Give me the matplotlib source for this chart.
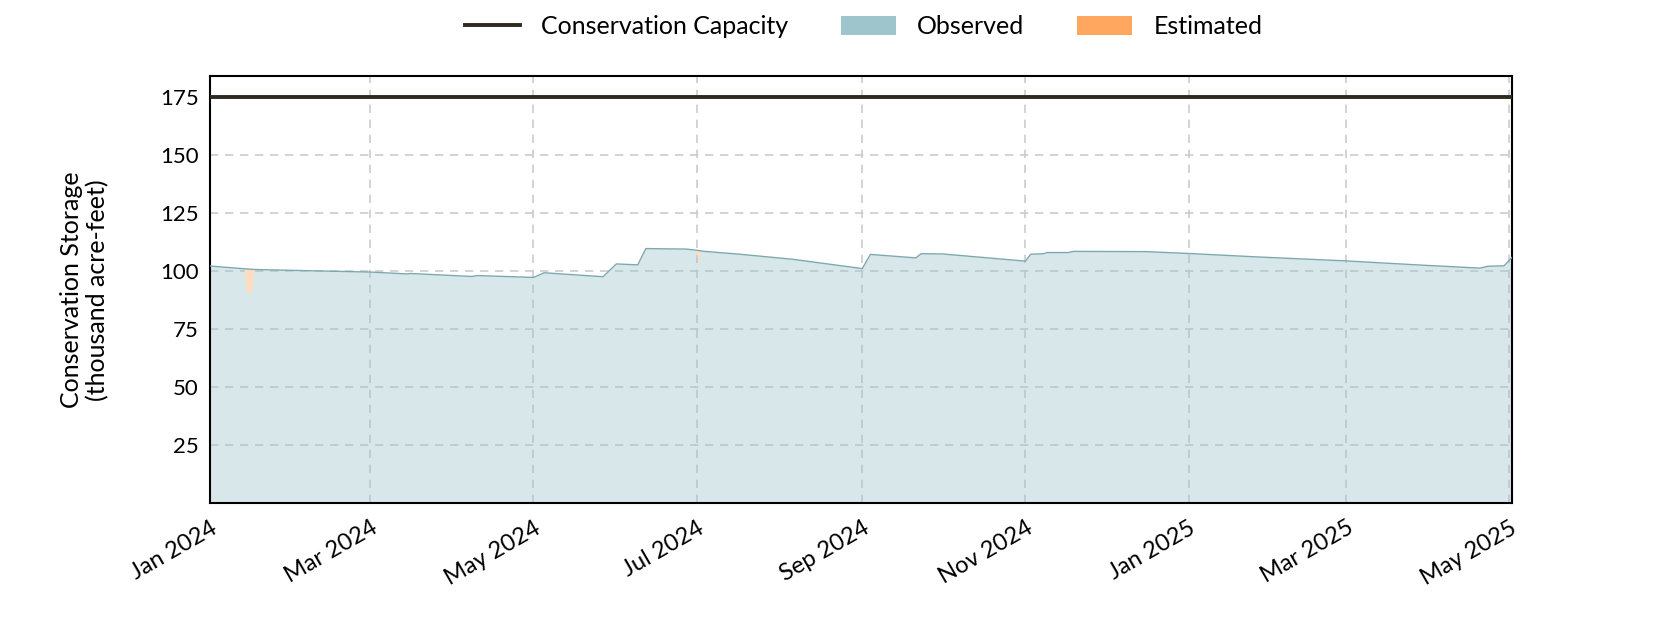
#! /usr/bin/python3
# coding : utf-8

import numpy as np
import pandas as pd
import matplotlib
matplotlib.use("Agg")
import matplotlib.pyplot as plt
import matplotlib.dates as mdates
from matplotlib.lines import Line2D
from matplotlib.patches import Patch

plt.rcParams['font.family'] = ['Lato', 'DejaVu Sans']

CAPACITY = 175.0

# 蓄水量曲线（读图得到的折点）
obs_dates = pd.to_datetime([
    "2024-01-01", "2024-01-13", "2024-01-14", "2024-01-18", "2024-03-01",
    "2024-03-15", "2024-03-16", "2024-04-08", "2024-04-10", "2024-05-01",
    "2024-05-05", "2024-05-27", "2024-06-01", "2024-06-09", "2024-06-12",
    "2024-06-27", "2024-07-01", "2024-07-04", "2024-07-16", "2024-08-06",
    "2024-09-01", "2024-09-04", "2024-09-21", "2024-09-23", "2024-10-01",
    "2024-11-01", "2024-11-03", "2024-11-08", "2024-11-09", "2024-11-17",
    "2024-11-19", "2024-12-16", "2025-01-01", "2025-01-27", "2025-03-01",
    "2025-03-29", "2025-04-20", "2025-04-23", "2025-04-29", "2025-05-02",
])
obs_storage = [
    102.1, 101.0, 100.9, 100.6, 99.5,
    98.7, 98.9, 97.6, 98.0, 97.2,
    99.2, 97.5, 103.0, 102.6, 109.6,
    109.4, 108.9, 108.4, 107.3, 105.0,
    101.0, 107.1, 105.6, 107.4, 107.3,
    104.2, 107.2, 107.4, 107.9, 107.9,
    108.4, 108.3, 107.5, 106.0, 104.3,
    102.5, 101.2, 102.0, 102.2, 105.8,
]

# 估算的时段
est1_dates = pd.to_datetime(["2024-01-13 19:00", "2024-01-14 14:00",
                             "2024-01-16 14:00", "2024-01-17 10:00"])
est1_top = [100.9, 100.9, 100.8, 100.7]
est1_bottom = [100.9, 91.0, 91.0, 100.7]

est2_dates = pd.to_datetime(["2024-07-01 00:00", "2024-07-01 12:00",
                             "2024-07-02 14:00"])
est2_top = [108.9, 108.85, 108.8]
est2_bottom = [108.9, 103.0, 108.8]

OBS_COLOR = "#9fc5cc"
OBS_LINE = "#7ea8b0"
EST_COLOR = "#ffa75f"
CAP_COLOR = "#2e2a1f"

fig = plt.figure(figsize=(16.8, 6.3), dpi=100)
ax = fig.add_axes([0.125, 0.201, 0.775, 0.678])

ax.fill_between(obs_dates, 0, obs_storage, color=OBS_COLOR, alpha=0.4, lw=0, zorder=2)
for d, top, bot in [(est1_dates, est1_top, est1_bottom), (est2_dates, est2_top, est2_bottom)]:
    ax.fill_between(d, bot, top, color="white", lw=0, zorder=3)
    ax.fill_between(d, bot, top, color=EST_COLOR, alpha=0.4, lw=0, zorder=4)
ax.plot(obs_dates, obs_storage, color=OBS_LINE, lw=1.0, zorder=5)
ax.axhline(CAPACITY, color=CAP_COLOR, lw=2.8, zorder=6)

ax.set_ylim(0, CAPACITY * 1.05)
ax.set_xlim(pd.Timestamp("2024-01-01"), pd.Timestamp("2025-05-02"))
ax.set_yticks([25, 50, 75, 100, 125, 150, 175])
ax.xaxis.set_major_locator(mdates.MonthLocator(bymonth=[1, 3, 5, 7, 9, 11]))
ax.xaxis.set_major_formatter(mdates.DateFormatter("%b %Y"))
plt.setp(ax.get_xticklabels(), rotation=30, ha="right", rotation_mode="anchor")
ax.tick_params(axis="y", length=0, labelsize=16, pad=8)
ax.tick_params(axis="x", length=0, labelsize=17, pad=10)

ax.grid(True, color="#cccccc", lw=1.2, ls=(0, (5, 4)), zorder=1)
ax.set_axisbelow(True)
for s in ax.spines.values():
    s.set_color("black")
    s.set_linewidth(1.5)

ax.set_ylabel("Conservation Storage\n(thousand acre-feet)", fontsize=18)
ax.yaxis.set_label_coords(-0.077, 0.5)

handles = [Line2D([0], [0], color=CAP_COLOR, lw=2.8),
           Patch(facecolor=OBS_COLOR),
           Patch(facecolor=EST_COLOR)]
labels = ["Conservation Capacity", "Observed", "Estimated"]
fig.legend(handles, labels, loc="upper center", bbox_to_anchor=(0.514, 1.012), ncol=3,
           frameon=False, fontsize=18, handlelength=2.2, handleheight=0.8,
           columnspacing=2.1, handletextpad=0.86)

fig.savefig("out.png", dpi=100)
